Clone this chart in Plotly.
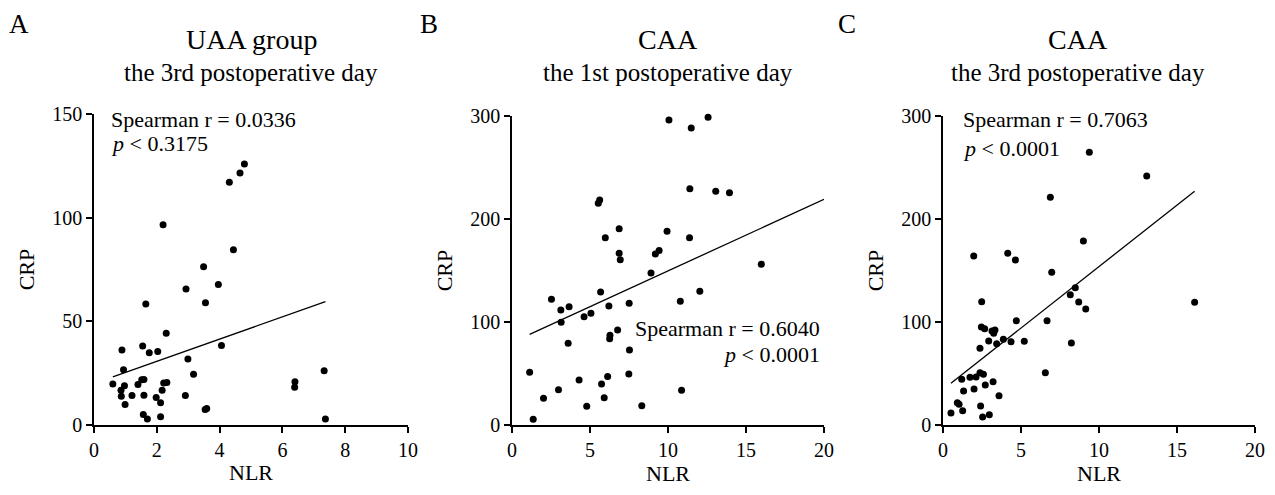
import plotly.graph_objects as go

W, H = 1275, 495
OFF = 8  # page body margin offset

# Panel A: UAA group, 3rd postoperative day
a_nlr = [4.79, 4.65, 4.31, 2.20, 4.44, 3.49, 3.96, 2.93, 3.55, 1.65, 2.30, 4.06, 1.55, 0.89, 1.76,
         2.03, 2.99, 0.94, 7.33, 3.17, 0.60, 0.97, 1.40, 1.52, 1.59, 2.22, 2.32, 0.86, 2.17, 6.40,
         6.39, 1.21, 1.59, 0.87, 1.98, 2.91, 0.99, 2.12, 3.54, 3.59, 1.57, 1.70, 2.12, 7.37]
a_crp = [125.9, 121.6, 117.1, 96.6, 84.5, 76.3, 67.8, 65.6, 59.0, 58.4, 44.2, 38.4, 38.1, 36.2, 34.9,
         35.5, 31.8, 26.7, 26.2, 24.5, 19.8, 18.9, 19.5, 21.8, 21.9, 20.2, 20.5, 16.8, 16.8, 20.8,
         18.2, 14.2, 14.4, 13.9, 13.3, 14.2, 9.9, 10.7, 7.5, 8.0, 5.1, 2.9, 4.0, 2.9]
a_fit = [5.36, 20.0]  # slope, intercept

# Panel B: CAA, 1st postoperative day
b_nlr = [10.06, 12.57, 11.49, 11.40, 13.06, 13.94, 5.62, 5.53, 6.87, 9.94, 5.98, 11.38, 6.87, 9.43,
         9.19, 6.94, 15.98, 8.91, 5.68, 12.04, 2.53, 10.79, 7.51, 3.66, 6.21, 3.13, 5.06, 4.62, 3.15,
         6.77, 6.28, 6.26, 3.60, 7.53, 1.13, 7.49, 6.13, 4.30, 5.74, 2.98, 10.87, 2.02, 5.91, 4.79,
         8.32, 1.36]
b_crp = [296.1, 298.7, 288.3, 229.4, 226.9, 225.6, 218.4, 215.2, 190.6, 188.0, 181.9, 181.9, 166.7,
         169.3, 166.0, 160.5, 156.0, 147.6, 129.1, 129.8, 122.0, 120.1, 118.1, 114.9, 115.5, 111.7,
         108.4, 105.2, 99.7, 92.2, 87.1, 83.8, 79.3, 72.8, 51.1, 49.5, 47.2, 43.7, 39.8, 34.3, 33.7,
         25.9, 26.5, 18.1, 18.8, 5.5]
b_fit = [6.95, 80.1]

# Panel C: CAA, 3rd postoperative day
c_nlr = [9.38, 13.06, 6.88, 9.00, 1.97, 4.15, 4.64, 6.97, 8.48, 8.16, 8.70, 16.13, 2.48, 9.15, 4.70,
         6.67, 2.46, 2.67, 3.14, 3.33, 3.25, 3.87, 2.93, 4.36, 5.21, 3.44, 8.23, 2.37, 6.56, 2.37,
         2.59, 2.12, 1.73, 1.20, 2.71, 3.21, 1.99, 1.32, 3.59, 0.92, 1.03, 1.26, 0.51, 2.41, 2.54, 2.97]
c_crp = [264.7, 241.7, 221.0, 178.6, 164.1, 166.7, 160.2, 148.2, 133.3, 126.5, 119.4, 119.1, 119.7,
         112.6, 101.3, 101.3, 95.1, 93.5, 91.3, 92.2, 89.0, 83.2, 81.6, 80.9, 81.2, 79.0, 79.6, 74.4,
         50.8, 50.8, 49.2, 46.6, 46.3, 44.3, 38.8, 42.1, 35.0, 33.0, 28.5, 21.7, 20.1, 13.9, 11.7,
         18.4, 7.8, 10.0]
c_fit = [11.94, 34.4]

panels = [
    dict(x=a_nlr, y=a_crp, fit=a_fit, xr=[0, 10], xt=[0, 2, 4, 6, 8, 10], yr=[0, 150], yt=[0, 50, 100, 150],
         xd=(94, 408), yd=(114, 425)),
    dict(x=b_nlr, y=b_crp, fit=b_fit, xr=[0, 20], xt=[0, 5, 10, 15, 20], yr=[0, 300], yt=[0, 100, 200, 300],
         xd=(512, 824), yd=(116, 425)),
    dict(x=c_nlr, y=c_crp, fit=c_fit, xr=[0, 20], xt=[0, 5, 10, 15, 20], yr=[0, 300], yt=[0, 100, 200, 300],
         xd=(943, 1255), yd=(116, 425)),
]

FONT = "Liberation Serif, Times New Roman, serif"
fig = go.Figure()
layout = dict(width=W, height=H, margin=dict(l=0, r=0, t=0, b=0), plot_bgcolor="white",
              paper_bgcolor="white", showlegend=False, font=dict(family=FONT, color="black"))

def fx(px):
    return (px - OFF) / W

def fy(py):
    return 1 - (py - OFF) / H

for i, p in enumerate(panels):
    n = "" if i == 0 else str(i + 1)
    xa, ya = "x" + n, "y" + n
    fig.add_trace(go.Scatter(x=p["x"], y=p["y"], mode="markers", xaxis=xa, yaxis=ya,
                             marker=dict(color="black", size=7), cliponaxis=False))
    x0, x1 = min(p["x"]), max(p["x"])
    if i == 1:
        x1 = p["xr"][1]
    s, b = p["fit"]
    fig.add_trace(go.Scatter(x=[x0, x1], y=[s * x0 + b, s * x1 + b], mode="lines", xaxis=xa, yaxis=ya,
                             line=dict(color="black", width=1.3), cliponaxis=False))
    common = dict(showgrid=False, zeroline=False, showline=True, linecolor="black", linewidth=1.5,
                  ticks="outside", ticklen=6, tickwidth=1.5, tickcolor="black", automargin=False,
                  tickfont=dict(family=FONT, size=20, color="black"))
    layout["xaxis" + n] = dict(common, range=p["xr"], tickvals=p["xt"], anchor=ya,
                               domain=[fx(p["xd"][0]), fx(p["xd"][1])],
                               title=dict(text="NLR", font=dict(family=FONT, size=22), standoff=5))
    layout["yaxis" + n] = dict(common, range=p["yr"], tickvals=p["yt"], anchor=xa,
                               domain=[fy(p["yd"][1]), fy(p["yd"][0])],
                               title=dict(text="CRP", font=dict(family=FONT, size=22), standoff=12))

fig.update_layout(**layout)

def ann(text, px, py, size, xanchor="center"):
    fig.add_annotation(text=text, x=fx(px), y=fy(py), xref="paper", yref="paper", showarrow=False,
                       xanchor=xanchor, yanchor="middle", font=dict(family=FONT, size=size, color="black"))

titles = [("A", 19, "UAA group", 251), ("B", 429, "CAA", 668), ("C", 847, "CAA", 1078)]
for letter, lx, t, cx in titles:
    ann(letter, lx, 24, 27)
    ann(t, cx, 40, 28)
    ann("the 3rd postoperative day" if letter != "B" else "the 1st postoperative day", cx, 73, 25)

ann("Spearman r = 0.0336", 109, 119, 22, "left")
ann("<i>p</i> < 0.3175", 109, 143, 22, "left")
ann("Spearman r = 0.6040", 822, 328, 22, "right")
ann("<i>p</i> < 0.0001", 822, 354, 22, "right")
ann("Spearman r = 0.7063", 961, 119, 22, "left")
ann("<i>p</i> < 0.0001", 961, 148, 22, "left")

fig.write_html("out.html")
